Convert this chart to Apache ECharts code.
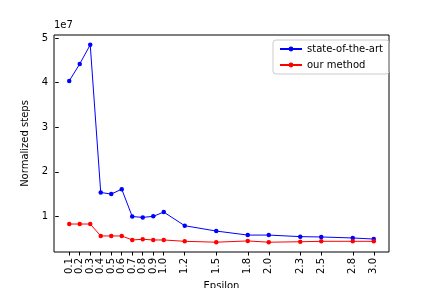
<!DOCTYPE html>
<html><head><meta charset="utf-8">
<script src="https://cdn.jsdelivr.net/npm/echarts@6/dist/echarts.min.js"></script>
<style>html,body{margin:0;padding:0;background:#fff}#c{width:432px;height:288px}</style>
</head><body><div id="c"></div>
<script>
const epsilons = [0.1,0.2,0.3,0.4,0.5,0.6,0.7,0.8,0.9,1.0,1.2,1.5,1.8,2.0,2.3,2.5,2.8,3.0];
const stateOfTheArt = [4.04e7,4.42e7,4.85e7,1.536e7,1.50e7,1.61e7,0.995e7,0.977e7,1.0e7,1.096e7,0.79e7,0.67e7,0.58e7,0.58e7,0.545e7,0.537e7,0.515e7,0.49e7];
const ourMethod = [0.828e7,0.828e7,0.828e7,0.56e7,0.56e7,0.56e7,0.47e7,0.486e7,0.47e7,0.47e7,0.44e7,0.42e7,0.448e7,0.42e7,0.43e7,0.44e7,0.44e7,0.44e7];
const yTicks = [1e7,2e7,3e7,4e7,5e7];
const seriesNames = ['state-of-the-art','our method'];

const font = 'DejaVu Sans';
const chart = echarts.init(document.getElementById('c'), null, {renderer:'canvas'});
const pair = (xs, ys) => xs.map((x,i)=>[x, ys[i]]);
chart.setOption({
  animation:false,
  backgroundColor:'#fff',
  textStyle:{fontFamily:font},
  grid:{left:54,right:43,top:35,bottom:36,outerBoundsMode:'none',containLabel:false,show:true,borderColor:'#000',borderWidth:1,backgroundColor:'transparent'},
  title:{text:'1e7',left:54,top:20,padding:0,textStyle:{fontFamily:font,fontSize:10,fontWeight:'normal',color:'#000'}},
  legend:{
    right:43,top:40,orient:'vertical',
    data:seriesNames,
    itemWidth:22,itemHeight:6,itemGap:6,
    borderColor:'#cccccc',borderWidth:1,borderRadius:3,
    padding:[4,6,4,6],
    textStyle:{fontFamily:font,fontSize:10,color:'#000'}
  },
  xAxis:{
    type:'value',min:-0.045,max:3.145,
    name:'Epsilon',nameLocation:'middle',nameGap:25,
    nameTextStyle:{fontFamily:font,fontSize:10,color:'#000'},
    axisLine:{show:false},
    splitLine:{show:false},
    axisTick:{show:true,customValues:epsilons,length:3.5,lineStyle:{color:'#000'}},
    axisLabel:{customValues:epsilons,rotate:90,fontFamily:font,fontSize:10,color:'#000',margin:6,
      formatter:v=>Number(v).toFixed(1)}
  },
  yAxis:{
    type:'value',min:2.0e6,max:5.07e7,
    name:'Normalized steps',nameLocation:'middle',nameGap:19,
    nameTextStyle:{fontFamily:font,fontSize:10,color:'#000'},
    axisLine:{show:false},
    splitLine:{show:false},
    axisTick:{show:true,customValues:yTicks,length:3.5,lineStyle:{color:'#000'}},
    axisLabel:{customValues:yTicks,fontFamily:font,fontSize:10,color:'#000',margin:6,
      formatter:v=>String(Math.round(v/1e7))}
  },
  series:[
    {name:seriesNames[0],type:'line',data:pair(epsilons,stateOfTheArt),
     symbol:'circle',symbolSize:4.5,color:'#0000ff',
     lineStyle:{width:1,color:'#0000ff'},itemStyle:{color:'#0000ff'}},
    {name:seriesNames[1],type:'line',data:pair(epsilons,ourMethod),
     symbol:'circle',symbolSize:4.5,color:'#ff0000',
     lineStyle:{width:1,color:'#ff0000'},itemStyle:{color:'#ff0000'}}
  ]
});
</script></body></html>
